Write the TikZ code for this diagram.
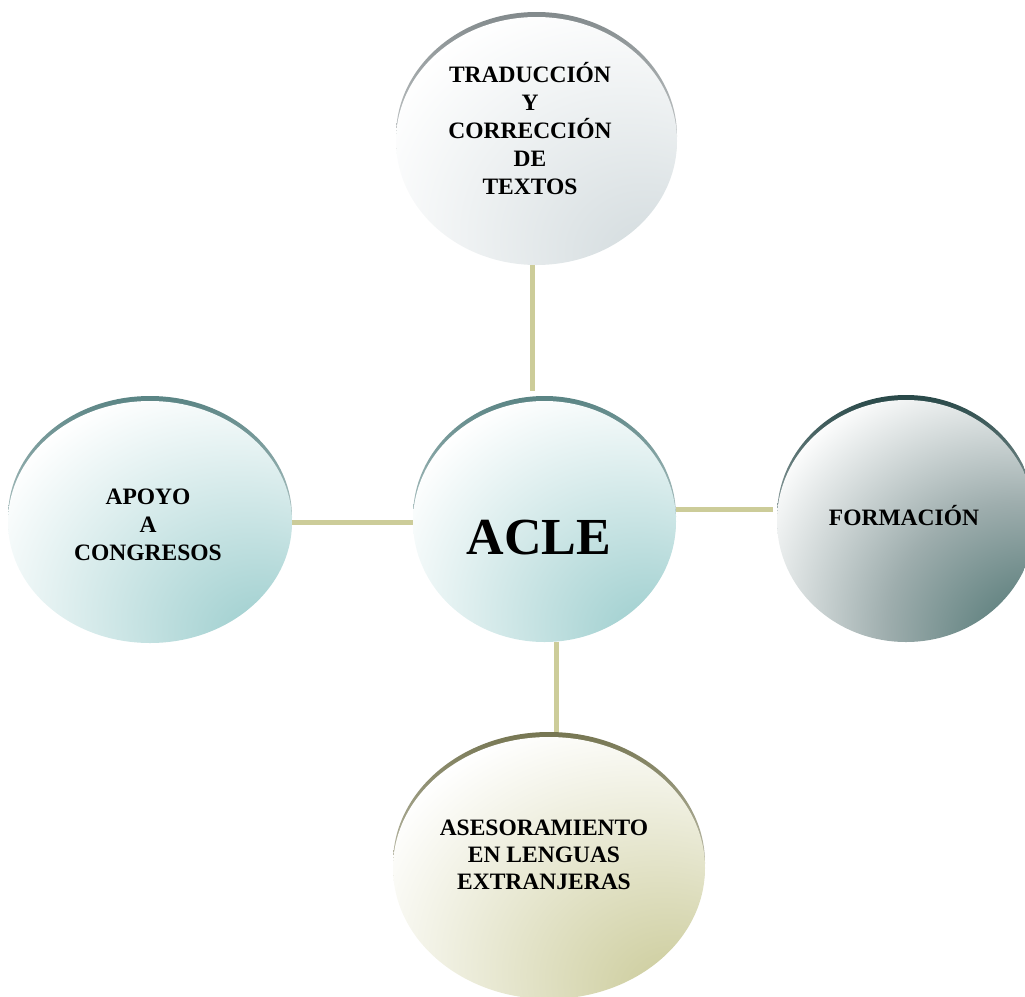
\documentclass[tikz,border=0pt]{standalone}
\usepackage{fontspec}
\setmainfont{Liberation Serif}
\usetikzlibrary{shapes.geometric,calc}
\pgfdeclarelayer{background}
\pgfsetlayers{background,main}
\pgfdeclareradialshading{shTeal}{\pgfpoint{22bp}{-26bp}}{rgb(0bp)=(0.64,0.82,0.82); rgb(5bp)=(0.64,0.82,0.82); rgb(44bp)=(1,1,1); rgb(100bp)=(1,1,1)}
\pgfdeclareradialshading{shGray}{\pgfpoint{22bp}{-26bp}}{rgb(0bp)=(0.84,0.87,0.88); rgb(5bp)=(0.84,0.87,0.88); rgb(44bp)=(1,1,1); rgb(100bp)=(1,1,1)}
\pgfdeclareradialshading{shDark}{\pgfpoint{30bp}{-30bp}}{rgb(0bp)=(0.30,0.45,0.44); rgb(6bp)=(0.31,0.46,0.45); rgb(26bp)=(0.62,0.68,0.68); rgb(48bp)=(1,1,1); rgb(100bp)=(1,1,1)}
\pgfdeclareradialshading{shKhaki}{\pgfpoint{22bp}{-26bp}}{rgb(0bp)=(0.81,0.81,0.63); rgb(5bp)=(0.81,0.81,0.63); rgb(44bp)=(1,1,1); rgb(100bp)=(1,1,1)}
\definecolor{linec}{RGB}{204,204,153}
\definecolor{crTeal}{RGB}{90,132,132}
\definecolor{crGray}{RGB}{130,138,140}
\definecolor{crDark}{RGB}{40,72,72}
\definecolor{crKhaki}{RGB}{118,118,82}
\begin{document}
\begin{tikzpicture}[x=1pt,y=-1pt,
  bubble/.style={ellipse, inner sep=0pt, draw=none, shade},
  txt/.style={font=\bfseries\fontsize{23.5}{28}\selectfont, align=center, inner sep=0pt},
  conn/.style={draw=linec, line width=5pt},
  cres/.style={top color=#1, bottom color=white, draw=none}]
\useasboundingbox (0,0) rectangle (1025,996);
% circles
\node[bubble, shading=shGray, minimum width=281pt, minimum height=248pt] (top) at (536.5,141) {};
\node[bubble, shading=shTeal, minimum width=263pt, minimum height=241pt] (ctr) at (544.5,521.5) {};
\node[bubble, shading=shTeal, minimum width=284pt, minimum height=242pt] (left) at (150,522) {};
\node[bubble, shading=shDark, minimum width=258pt, minimum height=242pt] (right) at (906,521) {};
\node[bubble, shading=shKhaki, minimum width=312pt, minimum height=262pt] (bot) at (549,868) {};
% texts
\node[txt] (ttop) at (530,129) {TRADUCCIÓN\\Y\\CORRECCIÓN\\DE\\TEXTOS};
\node[txt] (tleft) at (148,525) {APOYO\\A\\CONGRESOS};
\node[txt, font=\bfseries\fontsize{52}{60}\selectfont] (tctr) at (539,538) {ACLE};
\node[txt] (tright) at (904,516) {FORMACIÓN};
\node[txt, font=\bfseries\fontsize{23.5}{27}\selectfont] (tbot) at (544,855) {ASESORAMIENTO\\EN LENGUAS\\EXTRANJERAS};
% coordinates for connectors
\coordinate (t1) at ($(top.south)+(-4.5,0)$);
\coordinate (t2) at ($(ctr.north)+(0,-10)$);
\coordinate (r1) at ($(ctr.east)+(0,-12)$);
\coordinate (r2) at ($(right.west)+(-4,0)$);
\coordinate (b1) at ($(ctr.south)+(11.5,0)$);
\begin{pgfonlayer}{background}
\draw[conn] (t1) -- (t1 |- t2);
\draw[conn] (left.east) -- (left.east -| ctr.west);
\draw[conn] (r1) -- (r1 -| r2);
\draw[conn] (b1) -- (b1 |- bot.north);
\shade[cres=crGray] ($(top.center)+(0,-5)$) ellipse [x radius=140.5, y radius=124];
\shade[cres=crTeal] ($(ctr.center)+(0,-5)$) ellipse [x radius=131.5, y radius=120.5];
\shade[cres=crTeal] ($(left.center)+(0,-5)$) ellipse [x radius=142, y radius=121];
\shade[cres=crDark] ($(right.center)+(0,-5)$) ellipse [x radius=129, y radius=121];
\shade[cres=crKhaki] ($(bot.center)+(0,-5)$) ellipse [x radius=156, y radius=131];
\end{pgfonlayer}
\end{tikzpicture}
\end{document}
